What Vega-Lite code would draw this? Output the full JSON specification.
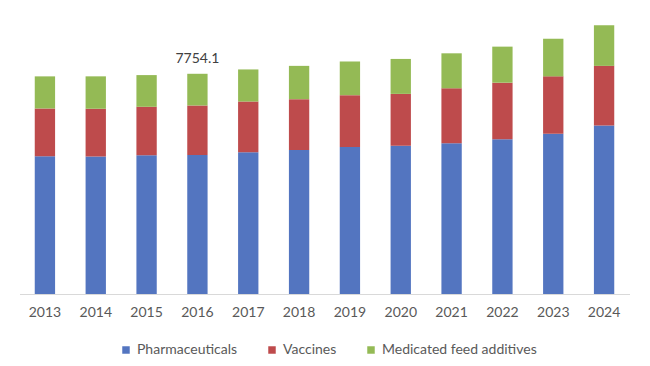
{
  "$schema": "https://vega.github.io/schema/vega-lite/v6.json",
  "width": 610,
  "height": 284,
  "autosize": {"type": "none"},
  "padding": {"left": 19.5, "top": 10, "right": 20.5, "bottom": 72},
  "background": "white",
  "config": {
    "view": {"stroke": null},
    "font": "Lato"
  },
  "datasets": {
    "bars": [
      {"year": "2013", "segment": "Pharmaceuticals", "value": 4848},
      {"year": "2013", "segment": "Vaccines", "value": 1685},
      {"year": "2013", "segment": "Medicated feed additives", "value": 1130},
      {"year": "2014", "segment": "Pharmaceuticals", "value": 4838},
      {"year": "2014", "segment": "Vaccines", "value": 1685},
      {"year": "2014", "segment": "Medicated feed additives", "value": 1141},
      {"year": "2015", "segment": "Pharmaceuticals", "value": 4883},
      {"year": "2015", "segment": "Vaccines", "value": 1709},
      {"year": "2015", "segment": "Medicated feed additives", "value": 1116},
      {"year": "2016", "segment": "Pharmaceuticals", "value": 4894},
      {"year": "2016", "segment": "Vaccines", "value": 1744},
      {"year": "2016", "segment": "Medicated feed additives", "value": 1116.1},
      {"year": "2017", "segment": "Pharmaceuticals", "value": 4988},
      {"year": "2017", "segment": "Vaccines", "value": 1789},
      {"year": "2017", "segment": "Medicated feed additives", "value": 1130},
      {"year": "2018", "segment": "Pharmaceuticals", "value": 5068},
      {"year": "2018", "segment": "Vaccines", "value": 1793},
      {"year": "2018", "segment": "Medicated feed additives", "value": 1172},
      {"year": "2019", "segment": "Pharmaceuticals", "value": 5173},
      {"year": "2019", "segment": "Vaccines", "value": 1828},
      {"year": "2019", "segment": "Medicated feed additives", "value": 1186},
      {"year": "2020", "segment": "Pharmaceuticals", "value": 5222},
      {"year": "2020", "segment": "Vaccines", "value": 1824},
      {"year": "2020", "segment": "Medicated feed additives", "value": 1231},
      {"year": "2021", "segment": "Pharmaceuticals", "value": 5312},
      {"year": "2021", "segment": "Vaccines", "value": 1932},
      {"year": "2021", "segment": "Medicated feed additives", "value": 1231},
      {"year": "2022", "segment": "Pharmaceuticals", "value": 5452},
      {"year": "2022", "segment": "Vaccines", "value": 1988},
      {"year": "2022", "segment": "Medicated feed additives", "value": 1270},
      {"year": "2023", "segment": "Pharmaceuticals", "value": 5640},
      {"year": "2023", "segment": "Vaccines", "value": 2023},
      {"year": "2023", "segment": "Medicated feed additives", "value": 1325},
      {"year": "2024", "segment": "Pharmaceuticals", "value": 5930},
      {"year": "2024", "segment": "Vaccines", "value": 2103},
      {"year": "2024", "segment": "Medicated feed additives", "value": 1430}
    ],
    "labels": [
      {"year": "2016", "total": 7754.1, "text": "7754.1"}
    ]
  },
  "layer": [
    {
      "data": {"name": "bars"},
      "mark": {"type": "bar"},
      "encoding": {
        "x": {
          "field": "year",
          "type": "ordinal",
          "scale": {"paddingInner": 0.6, "paddingOuter": 0.3},
          "axis": {
            "title": null,
            "labelAngle": 0,
            "ticks": false,
            "domainColor": "#d9d9d9",
            "domainWidth": 1,
            "labelFontSize": 14,
            "labelColor": "#595959",
            "labelPadding": 11
          }
        },
        "y": {
          "field": "value",
          "type": "quantitative",
          "stack": "zero",
          "scale": {"domain": [0, 9850]},
          "axis": null
        },
        "color": {
          "field": "segment",
          "type": "nominal",
          "scale": {
            "domain": ["Pharmaceuticals", "Vaccines", "Medicated feed additives"],
            "range": ["#5375C0", "#BE4B4C", "#94BA55"]
          },
          "legend": {
            "title": null,
            "orient": "none",
            "direction": "horizontal",
            "legendX": 99.5,
            "legendY": 333,
            "symbolType": "square",
            "symbolSize": 56,
            "symbolStrokeWidth": 0,
            "labelFontSize": 14,
            "labelColor": "#595959",
            "labelOffset": 4,
            "columnPadding": 27,
            "padding": 0
          }
        },
        "order": {"field": "value", "type": "quantitative", "sort": "descending"}
      }
    },
    {
      "data": {"name": "labels"},
      "mark": {"type": "text", "fontSize": 14, "color": "#404040", "baseline": "alphabetic", "dy": -11},
      "encoding": {
        "x": {"field": "year", "type": "ordinal"},
        "y": {"field": "total", "type": "quantitative"},
        "text": {"field": "text"}
      }
    }
  ]
}
